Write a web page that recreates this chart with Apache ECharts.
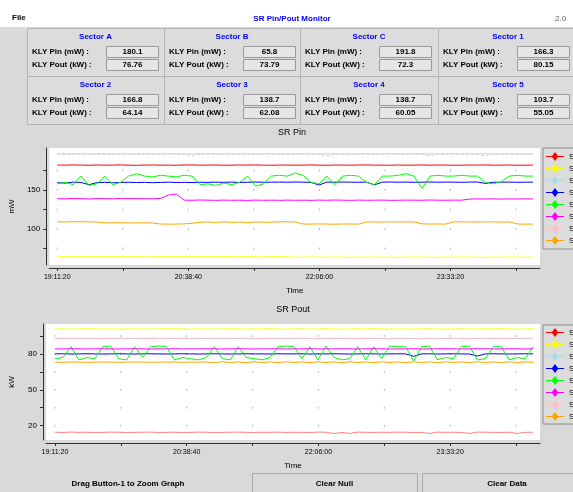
<!DOCTYPE html>
<html><head><meta charset="utf-8">
<script src="https://cdn.jsdelivr.net/npm/echarts@6/dist/echarts.min.js"></script>
<style>html,body{margin:0;padding:0;background:#d9d9d9;overflow:hidden}#c{width:573px;height:492px}</style>
</head><body><div id="c"></div>
<script>
// ---------- data ----------
const appTitle = 'SR Pin/Pout Monitor';
const fileMenu = 'File';
const versionText = '2.0';
const pinTitle = 'SR Pin';
const poutTitle = 'SR Pout';
const sectors = ['Sector A','Sector B','Sector C','Sector 1','Sector 2','Sector 3','Sector 4','Sector 5'];
const pinLabel = 'KLY Pin (mW) :';
const poutLabel = 'KLY Pout (kW) :';
const sectorPin = ['180.1','65.8','191.8','166.3','166.8','138.7','138.7','103.7'];
const sectorPout = ['76.76','73.79','72.3','80.15','64.14','62.08','60.05','55.05'];
const seriesNames = ['SA','SB','SC','S1','S2','S3','S4','S5'];
const hintText = 'Drag Button-1 to Zoom Graph';
const buttonLabels = ['Clear Null','Clear Data'];

// sample times in seconds after 19:11:20
const sampleStep = 317;
const times = Array.from({length: 61}, (_, i) => i * sampleStep);
const xTickValues = [0,2620,5240,7860,10480,13100,15720,18340];
const xLabelValues = [0,5240,10480,15720];
const xLabels = ['19:11:20','20:38:40','22:06:00','23:33:20'];
const pinTickValues = [75,100,125,150,175];
const pinLabelValues = [100,150];
const poutTickValues = [20,35,50,65,80,95];
const poutLabelValues = [20,50,80];

const pinA = [182.2,182.0,182.3,182.1,181.9,182.2,182.0,182.1,182.3,182.0,
  181.8,182.1,182.2,182.0,182.1,181.9,182.2,182.3,182.0,182.1,
  182.2,181.9,182.0,182.2,182.1,182.3,182.0,181.9,182.1,182.2,
  182.0,182.1,182.3,182.0,181.9,182.2,182.1,182.0,182.2,182.3,
  182.0,182.1,181.9,182.2,182.0,182.1,182.3,182.0,182.2,182.1,
  181.9,182.0,182.2,182.1,182.3,182.0,182.1,182.2,181.9,182.0,182.1];
const pinB = [64.5,64.4,64.6,64.5,64.3,64.5,64.4,64.6,64.5,64.4,
  64.5,64.3,64.4,64.5,64.6,64.4,64.5,64.3,64.5,64.4,
  64.6,64.5,64.4,64.3,64.5,64.4,64.2,64.6,64.5,64.3,
  64.1,64.0,64.2,64.1,64.0,64.2,64.1,63.9,64.1,64.0,
  64.2,64.0,64.1,63.9,64.0,64.2,64.1,64.0,63.9,64.1,
  64.0,64.2,64.1,64.0,63.9,64.1,64.0,64.2,64.1,64.0,64.1];
const pinC = [196.3,196.0,196.2,196.4,196.1,196.3,196.0,196.2,196.1,196.3,
  196.2,196.0,196.4,196.1,196.2,196.3,196.0,193.8,196.2,196.1,
  196.3,196.0,196.2,196.1,196.4,196.0,196.2,196.3,196.1,196.0,
  196.2,196.4,196.1,196.3,194.0,196.2,196.0,196.1,196.3,196.2,
  196.0,196.1,196.3,196.2,196.0,196.4,196.1,193.9,196.2,196.0,
  196.3,196.1,196.2,196.0,194.2,196.3,196.1,196.0,196.2,196.1,196.3];
const pin1 = [159.5,159.0,160.2,159.8,157.0,159.6,160.0,159.4,159.8,160.1,
  159.7,160.0,159.5,159.9,160.2,159.8,160.0,159.6,160.1,159.9,
  160.2,160.0,160.3,159.8,160.1,160.4,160.0,160.2,160.3,160.1,
  160.4,160.2,160.0,156.5,160.3,160.1,160.4,160.2,160.0,160.3,
  156.8,160.2,160.4,160.1,160.3,160.0,160.2,160.4,160.1,160.3,
  160.2,160.0,160.3,160.4,158.5,160.2,160.1,160.3,160.0,160.2,160.3];
const pin2 = [158,160,157,168,156,158,168,157,160,168,
  171,168,167,169,168,167,169,168,157,158,
  156,159,157,160,168,155,158,168,169,168,
  172,169,160,158,168,157,168,169,168,160,
  157,168,168,169,171,168,152,168,169,168,
  168,169,168,168,160,158,161,168,169,168,168];
const pin3 = [139.0,138.8,139.2,139.0,138.7,139.1,139.0,138.9,139.2,139.0,
  139.1,138.9,139.0,139.3,143.5,145.0,137.2,137.0,137.3,137.1,
  136.9,137.2,137.0,137.1,136.8,137.2,137.0,137.1,136.9,137.2,
  137.0,137.1,136.9,137.2,137.0,137.3,137.1,136.9,137.2,137.0,
  137.1,137.2,136.9,137.0,137.2,137.1,137.0,137.3,137.1,137.0,
  137.2,137.1,138.5,138.7,138.6,138.8,138.5,138.7,138.6,138.8,138.6];
const pin4 = [196.6,196.5,196.7,196.6,196.5,196.6,196.7,196.5,196.6,196.6,
  196.5,196.7,196.6,196.5,196.6,196.7,196.6,196.5,196.6,196.7,
  196.6,196.5,196.7,196.6,196.6,196.5,196.7,196.6,196.5,196.6,
  196.7,196.6,196.5,196.6,196.7,196.6,196.5,196.6,196.6,196.7,
  196.5,196.6,196.7,196.6,196.5,196.6,196.7,196.5,196.6,196.6,
  196.7,196.5,196.6,196.6,196.7,196.5,196.6,196.7,196.6,196.5,196.6];
const pin5 = [109.4,109.2,109.5,109.3,109.4,109.1,108.2,108.0,108.3,107.9,
  108.1,108.0,107.8,106.6,106.4,106.5,106.7,107.5,108.8,109.2,
  108.6,109.3,108.7,109.1,108.5,109.2,108.8,109.0,109.3,109.4,
  109.2,106.6,106.4,106.7,106.5,106.3,106.6,106.5,106.4,109.1,
  109.3,109.0,109.4,109.2,109.3,109.1,106.8,106.5,106.6,106.4,
  109.2,109.4,109.1,109.3,109.2,109.4,109.0,109.3,106.6,106.4,106.5];

const poutA = [14.5,14.3,14.6,14.4,14.5,14.3,14.4,14.6,14.5,14.3,
  14.4,14.5,14.6,14.3,14.4,14.5,14.3,14.4,14.6,14.5,
  14.3,14.4,14.5,14.6,14.4,14.3,14.5,14.4,14.6,14.3,
  14.5,14.4,14.3,14.6,14.5,13.4,14.3,13.5,14.6,14.4,
  14.3,14.5,14.4,14.6,14.5,14.3,14.4,13.4,14.6,14.4,
  14.5,14.3,13.5,14.6,14.5,14.4,14.3,14.5,13.4,14.4,14.5];
const poutB = [100.8,100.9,100.7,100.8,101.0,100.8,100.7,100.9,100.8,100.7,
  100.9,100.8,100.7,100.8,100.9,101.0,100.8,100.7,100.9,100.8,
  100.7,100.8,100.9,100.8,100.7,100.9,100.8,101.0,100.8,100.7,
  100.8,100.9,100.7,100.8,100.9,100.8,100.7,100.8,100.9,100.8,
  101.0,100.8,100.7,100.9,100.8,100.7,100.8,100.9,100.8,100.7,
  100.8,100.9,100.8,100.7,100.9,100.8,101.0,100.8,100.7,100.8,100.9];
const poutC = [92.8,92.7,92.9,92.8,92.7,92.8,92.9,92.8,92.7,92.8,
  92.9,92.8,92.7,92.8,92.8,92.9,92.7,92.8,92.8,92.9,
  92.8,92.7,92.8,92.9,92.8,92.7,92.8,92.8,92.9,92.7,
  92.8,92.8,92.9,92.7,92.8,92.8,92.9,92.8,92.7,92.8,
  92.9,92.8,92.7,92.8,92.8,92.9,92.7,92.8,92.8,92.9,
  92.8,92.7,92.8,92.9,92.8,92.7,92.8,92.8,92.9,92.7,92.8];
const pout1 = [80.0,80.1,79.9,80.0,80.1,80.0,79.9,80.0,80.1,80.0,
  79.9,80.0,80.1,80.0,79.9,80.0,80.1,80.0,79.9,80.0,
  80.1,80.0,79.9,80.0,80.1,80.0,80.0,79.9,80.1,80.0,
  80.0,80.1,79.9,80.0,80.0,80.1,80.0,79.9,80.0,80.1,
  80.0,79.9,80.0,80.1,80.0,78.0,80.0,80.1,79.9,80.0,
  80.1,80.0,79.9,78.2,80.0,80.1,80.0,79.9,80.0,80.1,80.0];
const pout2 = [76,77,86,75,77,76,86,86.5,76,75,
  86,77,86,86.5,86,75,77,76,75,77,
  86,76,75,86,77,76,75,77,86,86.5,
  86,76,86,75,86.5,77,75,76,86,75,
  86,76,86.5,86,86,74,86,86.5,75,77,
  76,86,86.5,75,76,86,86,75,77,76,86];
const pout3 = [84.2,84.1,84.3,84.2,84.1,84.2,84.3,84.2,84.1,84.2,
  84.3,84.2,84.1,84.2,84.2,84.3,84.1,84.2,84.2,84.3,
  84.2,84.1,84.2,84.3,84.2,84.1,84.2,84.2,84.3,84.1,
  84.2,84.2,84.3,84.1,84.2,84.2,84.3,84.2,84.1,84.2,
  84.3,84.2,84.1,84.2,84.2,84.3,84.1,84.2,84.2,84.3,
  84.2,84.1,84.2,84.3,84.2,84.1,84.2,84.2,84.3,84.1,84.2];
const pout4 = [93.0,93.1,92.9,93.0,93.1,93.0,92.9,93.0,93.1,93.0,
  92.9,93.0,93.1,93.0,92.9,93.0,93.1,93.0,92.9,93.0,
  93.1,93.0,92.9,93.0,93.1,93.0,93.0,92.9,93.1,93.0,
  93.0,93.1,92.9,93.0,93.0,93.1,93.0,92.9,93.0,93.1,
  93.0,92.9,93.0,93.1,93.0,92.9,93.0,93.1,92.9,93.0,
  93.1,93.0,92.9,93.0,93.0,93.1,93.0,92.9,93.0,93.1,93.0];
const pout5 = [73.1,73.0,73.2,73.1,73.0,73.1,73.2,73.1,73.0,73.1,
  73.2,73.1,73.0,73.1,73.1,73.2,73.0,73.1,73.1,73.2,
  72.7,73.4,72.8,73.3,72.7,73.4,72.8,73.3,72.7,73.4,
  72.8,73.3,72.7,73.4,72.8,73.3,72.7,73.4,72.8,73.3,
  72.7,73.4,72.8,73.3,72.7,73.4,72.8,73.3,72.7,73.4,
  72.8,73.3,72.7,73.4,72.8,73.3,72.7,73.4,72.8,73.3,72.9];

const pinData = [pinA,pinB,pinC,pin1,pin2,pin3,pin4,pin5];
const poutData = [poutA,poutB,poutC,pout1,pout2,pout3,pout4,pout5];

// ---------- style ----------
const FONT = '"Liberation Sans", Arial, sans-serif';
const colors = ['#ff0000','#ffff00','#add8e6','#0000ff','#00ff00','#ff00ff','#ffc0cb','#ffa500'];
const legendIcon = 'path://M0,4L6,4L9,0L12,4L18,4L18,5L12,5L9,9L6,5L0,5Z';

function xLabelFmt(v){ const k = xLabelValues.indexOf(v); return k >= 0 ? xLabels[k] : ''; }

function mkX(gridIndex, min, max){
  return {
    type:'value', gridIndex, min, max, offset:3,
    name:'Time', nameLocation:'middle', nameGap:19,
    nameTextStyle:{fontSize:8, fontFamily:FONT, color:'#000'},
    axisLine:{show:true, onZero:false, lineStyle:{color:'#303030', width:1}},
    axisTick:{show:true, length:3, customValues:xTickValues, lineStyle:{color:'#303030'}},
    axisLabel:{customValues:xLabelValues, formatter:xLabelFmt, fontSize:7, fontFamily:FONT, color:'#000', margin:6},
    splitLine:{show:false}
  };
}
function mkY(gridIndex, min, max, ticks, labels, name, gap){
  return {
    type:'value', gridIndex, min, max, offset:3,
    name, nameLocation:'middle', nameGap:gap, nameRotate:90,
    nameTextStyle:{fontSize:8, fontFamily:FONT, color:'#000'},
    axisLine:{show:true, onZero:false, lineStyle:{color:'#303030', width:1}},
    axisTick:{show:true, length:3, customValues:ticks, lineStyle:{color:'#303030'}},
    axisLabel:{customValues:labels, fontSize:8, fontFamily:FONT, color:'#000', margin:6},
    splitLine:{show:false}
  };
}

const series = [];
function dots(xi, yTicks){
  const d = [];
  xTickValues.forEach(x => yTicks.forEach(y => d.push([x, y])));
  return {type:'scatter', xAxisIndex:xi, yAxisIndex:xi, data:d, symbol:'rect', symbolSize:[1,2],
    itemStyle:{color:'#a8a8a8'}, silent:true, z:1};
}
series.push(dots(0, pinTickValues), dots(1, poutTickValues));
seriesNames.forEach((n, i) => {
  series.push({
    name: n + '|pin', type:'line', xAxisIndex:0, yAxisIndex:0,
    data: times.map((t, k) => [t, pinData[i][k]]),
    showSymbol:false, symbol:'diamond', z: i === 6 ? 1 : 2,
    lineStyle:{width:1, color:colors[i], type: i === 2 ? [3,2] : 'solid'},
    itemStyle:{color:colors[i]}
  });
});
seriesNames.forEach((n, i) => {
  series.push({
    name: n + '|pout', type:'line', xAxisIndex:1, yAxisIndex:1,
    data: times.map((t, k) => [t, poutData[i][k]]),
    showSymbol:false, symbol:'diamond', z: i === 2 ? 1 : 2,
    lineStyle:{width:1, color:colors[i], opacity: i === 0 ? 0.5 : 1},
    itemStyle:{color:colors[i]}
  });
});

function mkLegend(suffix, top, padTop){
  return {
    data: seriesNames.map(n => n + '|' + suffix),
    orient:'vertical', left:543, top, padding:[padTop,30,padTop,3], itemGap:3,
    itemWidth:18, itemHeight:10, icon:legendIcon,
    borderColor:'#8c8c8c', borderWidth:1, backgroundColor:'#dcdcdc',
    formatter: n => n.split('|')[0], selectedMode:false,
    textStyle:{fontSize:8, fontFamily:FONT, color:'#000'}
  };
}

// ---------- panel graphics ----------
const g = [];
const T = (x, y, text, o={}) => g.push({type:'text', x, y, silent:true, style:Object.assign({
  text, font:'bold 8px ' + FONT, fill:'#000', textVerticalAlign:'middle', textAlign:'left'}, o)});
g.push({type:'rect', shape:{x:0,y:0,width:573,height:27}, style:{fill:'#ffffff'}, silent:true, z:-10});
T(12, 18, fileMenu);
T(292, 19, appTitle, {fill:'#0000ff', textAlign:'center'});
T(555, 19, versionText, {fill:'#666', font:'8px ' + FONT});
const colX = [27,164,300,438], colW = [137,136,138,140];
for (let r = 0; r < 2; r++) for (let c = 0; c < 4; c++) {
  const k = r*4 + c, x = colX[c], y = 28 + r*48;
  g.push({type:'rect', shape:{x:x+0.5, y:y+0.5, width:colW[c], height:48}, style:{fill:'#dcdcdc', stroke:'#b4b4b4', lineWidth:1}, silent:true, z:-5});
  T(x + colW[c]/2, y + 9, sectors[k], {fill:'#0000ff', textAlign:'center'});
  T(x + 5, y + 24, pinLabel);
  T(x + 5, y + 37, poutLabel);
  [[y+19, sectorPin[k]], [y+32, sectorPout[k]]].forEach(([by, val]) => {
    g.push({type:'rect', shape:{x:x+79.5, y:by-0.5, width:52, height:11}, style:{fill:'#e6e6e6', stroke:'#9a9a9a', lineWidth:1}, silent:true, z:-4});
    T(x + 105.5, by + 5, val, {textAlign:'center'});
  });
}
T(292, 133, pinTitle, {font:'9px ' + FONT, textAlign:'center'});
T(293, 310, poutTitle, {font:'9px ' + FONT, textAlign:'center'});
T(128, 484, hintText, {textAlign:'center'});
[[252,165,buttonLabels[0]],[422,170,buttonLabels[1]]].forEach(([bx,bw,lab]) => {
  g.push({type:'rect', shape:{x:bx+0.5, y:473.5, width:bw, height:22}, style:{fill:'#d9d9d9', stroke:'#a8a8a8', lineWidth:1}, silent:true});
  T(bx + bw/2, 484, lab, {textAlign:'center'});
});

const option = {
  animation:false,
  backgroundColor:'#d9d9d9',
  textStyle:{fontFamily:FONT},
  grid:[
    {left:49, top:148, width:491, height:117, show:true, backgroundColor:'#ffffff', borderWidth:0},
    {left:44, top:324, width:496, height:116, show:true, backgroundColor:'#ffffff', borderWidth:0}
  ],
  xAxis:[mkX(0, -320, 19299), mkX(1, -356, 19291)],
  yAxis:[mkY(0, 54, 204, pinTickValues, pinLabelValues, 'mW', 30),
         mkY(1, 8, 105, poutTickValues, poutLabelValues, 'kW', 27)],
  legend:[mkLegend('pin', 148, 4), mkLegend('pout', 325, 3)],
  series,
  graphic:g
};
const chart = echarts.init(document.getElementById('c'), null, {renderer:'canvas'});
chart.setOption(option);
</script>
</body></html>
